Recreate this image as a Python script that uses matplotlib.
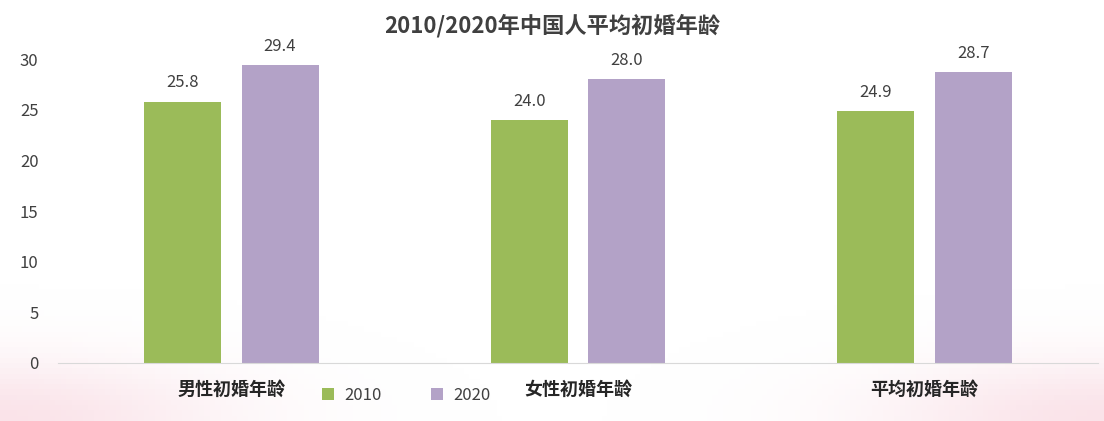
import matplotlib.pyplot as plt
import numpy as np

plt.rcParams['font.family'] = ['Noto Sans CJK SC', 'DejaVu Sans']

categories = ['男性初婚年龄', '女性初婚年龄', '平均初婚年龄']
years = ['2010', '2020']
values_2010 = [25.8, 24.0, 24.9]
values_2020 = [29.4, 28.0, 28.7]

fig = plt.figure(figsize=(11.04, 4.21), dpi=100, facecolor='w')

# faint pink glow at the bottom corners (white elsewhere)
bg = fig.add_axes([0, 0, 1, 1], zorder=-1)
gx, gy = np.meshgrid(np.linspace(0, 1, 200), np.linspace(0, 1, 80))
glow = np.exp(-((gx - 0.0) ** 2 / 0.04 + gy ** 2 / 0.02)) + np.exp(-((gx - 1.0) ** 2 / 0.04 + gy ** 2 / 0.02))
rgba = np.zeros(glow.shape + (4,))
rgba[..., :3] = [0.97, 0.82, 0.86]
rgba[..., 3] = np.clip(glow, 0, 1) * 0.6
bg.imshow(rgba, origin='lower', extent=[0, 1, 0, 1], aspect='auto')
bg.axis('off')

ax = fig.add_axes([0.0525, 0.1378, 0.942, 0.722])
ax.patch.set_alpha(0)
x = np.arange(len(categories))
w = 0.222
off = 0.1406
b1 = ax.bar(x - off, values_2010, w, color='#9BBB59', label=years[0])
b2 = ax.bar(x + off, values_2020, w, color='#B3A2C7', label=years[1])
for bars in (b1, b2):
    for r in bars:
        ax.text(r.get_x() + r.get_width() / 2, r.get_height() + 1.0, '%.1f' % r.get_height(),
                ha='center', va='bottom', fontsize=12, color='#404040')

ax.set_xlim(-0.5, 2.5)
ax.set_ylim(0, 30)
ax.set_yticks(range(0, 31, 5))
ax.tick_params(axis='y', length=0, labelsize=12, labelcolor='#404040', pad=14)
ax.set_xticks(x)
ax.set_xticklabels(categories, fontsize=13, fontweight='bold', color='#262626')
ax.tick_params(axis='x', length=0, pad=12)
for s in ['top', 'right', 'left']:
    ax.spines[s].set_visible(False)
ax.spines['bottom'].set_color('#D9D9D9')

ax.legend(loc='upper center', bbox_to_anchor=(0.335, -0.03), ncol=2, frameon=False,
          fontsize=12, handlelength=0.7, handleheight=0.7, handletextpad=0.6,
          columnspacing=3.0, labelcolor='#404040')

fig.text(0.5, 0.94, '2010/2020年中国人平均初婚年龄', ha='center', va='center',
         fontsize=16, fontweight='bold', color='#404040')

fig.savefig('out.png', dpi=100)
